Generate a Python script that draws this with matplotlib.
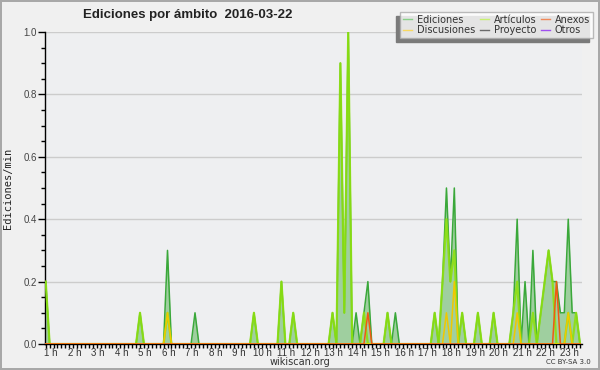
import numpy as np
import matplotlib
matplotlib.use("Agg")
from matplotlib import pyplot as plt
from matplotlib.lines import Line2D
from matplotlib.patches import Rectangle
import matplotlib.transforms as mtransforms

# 10 minute slots that had edits (everything else is 0)
slots = ["1:00", "5:00", "6:10", "7:20", "9:50", "11:00", "11:30", "13:10", "13:30",
         "13:40", "13:50", "14:10", "14:30", "14:40", "15:30", "15:50", "17:30", "17:50",
         "18:00", "18:10", "18:20", "18:40", "19:20", "20:00", "20:50", "21:00", "21:20",
         "21:40", "22:00", "22:10", "22:20", "22:30", "22:40", "22:50", "23:00", "23:10",
         "23:20", "23:30"]
ediciones = [0.2, 0.1, 0.3, 0.1, 0.1, 0.2, 0.1, 0.1, 0.9,
             0.1, 1.0, 0.1, 0.1, 0.2, 0.1, 0.1, 0.1, 0.2,
             0.5, 0.2, 0.5, 0.1, 0.1, 0.1, 0.1, 0.4, 0.2,
             0.3, 0.1, 0.2, 0.3, 0.2, 0.2, 0.1, 0.1, 0.4,
             0.1, 0.1]
articulos = [0.2, 0.1, 0.1, 0.0, 0.1, 0.2, 0.1, 0.1, 0.9,
             0.1, 1.0, 0.0, 0.1, 0.0, 0.1, 0.0, 0.1, 0.2,
             0.4, 0.2, 0.3, 0.1, 0.1, 0.1, 0.1, 0.2, 0.0,
             0.1, 0.1, 0.2, 0.3, 0.2, 0.0, 0.0, 0.0, 0.1,
             0.0, 0.1]
anexos = {"14:40": 0.1, "22:40": 0.2}
discusiones = {"6:10": 0.1, "18:00": 0.1, "18:20": 0.2, "21:00": 0.1, "23:10": 0.1}
proyecto = {}
otros = {}

hour_labels = [f"{h} h" for h in range(1, 24)]

# full grid of 10 minute bins
t = np.arange(6, 143) / 6.0


def to_idx(s):
    h, m = s.split(":")
    return int(h) * 6 + int(m) // 10 - 6


def series(vals):
    out = np.zeros(len(t))
    if isinstance(vals, dict):
        for k, v in vals.items():
            out[to_idx(k)] = v
    else:
        for k, v in zip(slots, vals):
            out[to_idx(k)] = v
    return out


tot = series(ediciones)
art = series(articulos)
anx = series(anexos)
dis = series(discusiones)
pro = series(proyecto)
otr = series(otros)

fig = plt.figure(figsize=(6, 3.7), dpi=100)
fig.patch.set_facecolor("#f0f0f0")
fig.patch.set_edgecolor("#a8a8a8")
fig.patch.set_linewidth(1.5)

ax = fig.add_axes([0.075, 0.0703, 0.895, 0.8432])
ax.set_facecolor("#eeeff1")

ax.fill_between(t, tot, color="#9fcf9f", lw=0, zorder=1)
ax.plot(t, tot, color="#3aa83a", lw=1.1, zorder=3)
ax.plot(t, art, color="#8ee010", lw=1.6, alpha=0.9, zorder=4)
ax.plot(t, dis, color="#f0c800", lw=1.1, zorder=5)
ax.plot(t, anx, color="#f05a14", lw=1.1, zorder=5)
ax.plot(t, pro, color="#606060", lw=0.6, zorder=0.5)
ax.plot(t, otr, color="#a040e0", lw=0.6, zorder=0.5)

ax.set_xlim(0.97, 23.75)
ax.set_ylim(0, 1.0)

for s in ["top", "right"]:
    ax.spines[s].set_visible(False)
ax.spines["left"].set_linewidth(1)
ax.spines["bottom"].set_linewidth(1)

ax.set_yticks(np.arange(0, 1.01, 0.2))
ax.set_yticklabels([f"{v:.1f}" for v in np.arange(0, 1.01, 0.2)], family="Liberation Sans")
ax.set_yticks(np.arange(0, 1.01, 0.05), minor=True)
ax.yaxis.grid(True, color="#cccccc", lw=1)
ax.set_axisbelow(True)

ax.set_xticks(range(1, 24))
ax.set_xticklabels(hour_labels, family="Liberation Sans")
ax.set_xticks(t, minor=True)
ax.tick_params(axis="x", which="both", direction="out", length=3, width=1, labelsize=7,
               labelcolor="#333333", pad=0)
ax.tick_params(axis="y", which="major", direction="out", length=5, width=1, labelsize=7,
               labelcolor="#444444", pad=1)
ax.tick_params(axis="y", which="minor", direction="out", length=3, width=1)
offs = mtransforms.ScaledTranslation(5 / 100, 0, fig.dpi_scale_trans)
for lab in ax.get_xticklabels():
    lab.set_transform(lab.get_transform() + offs)

ax.set_ylabel("Ediciones/min", fontsize=7.5, family="DejaVu Sans Mono", color="#222222",
              labelpad=7)

fig.text(0.312, 1 - 15 / 370, "Ediciones por ámbito  2016-03-22", ha="center", va="center",
         fontsize=9.5, fontweight="bold", family="Liberation Sans", color="#222222")
fig.text(0.5, 1 - 367 / 370, "wikiscan.org", ha="center", va="bottom", fontsize=7,
         color="#333333")
fig.text(0.948, 1 - 362 / 370, "CC BY-SA 3.0", ha="center", va="center", fontsize=5,
         color="#333333")

handles = [
    Line2D([], [], color="#88d088", lw=1),
    Line2D([], [], color="#f8d860", lw=1),
    Line2D([], [], color="#c8f070", lw=1),
    Line2D([], [], color="#6a6a6a", lw=1),
    Line2D([], [], color="#f08858", lw=1),
    Line2D([], [], color="#a050f0", lw=1),
]
labels = ["Ediciones", "Discusiones", "Artículos", "Proyecto", "Anexos", "Otros"]
leg = fig.legend(handles, labels, ncol=3, loc="upper right", bbox_to_anchor=(0.988, 0.968),
                 fontsize=7, frameon=True, fancybox=False, edgecolor="#aaaaaa",
                 borderpad=0.3, handlelength=0.9, columnspacing=0.5, labelspacing=0.05,
                 handletextpad=0.5, borderaxespad=0)
leg.get_frame().set_linewidth(1)
for txt in leg.get_texts():
    txt.set_color("#333333")

fig.canvas.draw()
bb = leg.get_window_extent().transformed(fig.transFigure.inverted())
shadow = Rectangle((bb.x0 - 4 / 600, bb.y0 - 4 / 370), bb.width, bb.height,
                   transform=fig.transFigure, color="#7a7a7a", zorder=leg.get_zorder() - 0.1)
fig.patches.append(shadow)

fig.savefig("out.png", dpi=100)
